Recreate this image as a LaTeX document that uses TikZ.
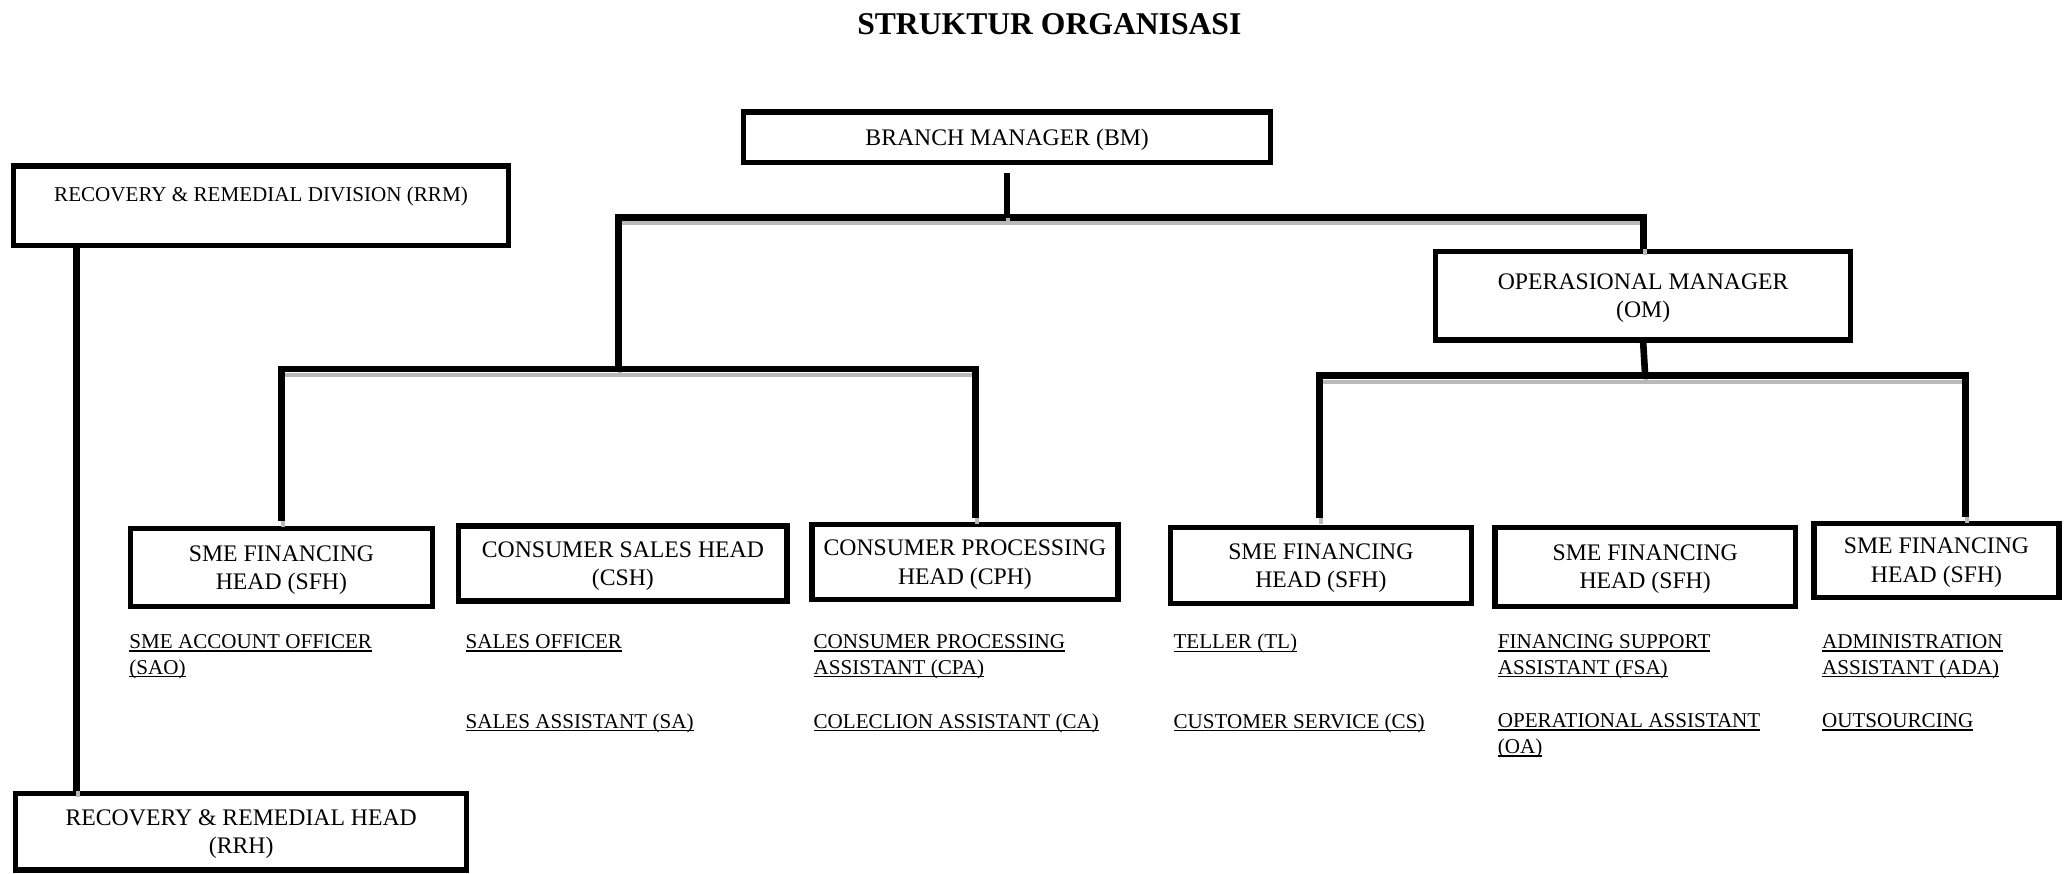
\documentclass[tikz,border=0pt]{standalone}
\usepackage{fontspec}
\setmainfont{Liberation Serif}
\usetikzlibrary{positioning}
\newcommand{\garisbawah}[1]{\setbox0\hbox{#1}\rlap{\rule[-2.6pt]{\wd0}{1.1pt}}\box0}
\tikzset{
    judul/.style={node font=\bfseries\fontsize{24}{28}\selectfont,inner sep=0pt},
    kotak/.style={draw,line width=4pt,align=center,inner sep=0pt,text depth=-3pt,node font=\fontsize{18}{21.5}\selectfont},
    kotakkecil/.style={kotak,node font=\fontsize{16}{20}\selectfont},
    staf/.style={anchor=north west,align=left,inner sep=0pt,node font=\fontsize{16}{19.5}\selectfont},
    garis/.style={draw,line width=5pt,preaction={draw,gray!55,line width=3pt,transform canvas={xshift=1pt,yshift=-4.5pt}}},
}

\begin{document}
\begin{tikzpicture}[x=1pt,y=-1pt]
    \useasboundingbox (0,0) rectangle (1568,663);

    \node [judul] (judul) at (796,18) {STRUKTUR ORGANISASI};

    \node [kotak,minimum width=400pt,minimum height=38pt] (bm) at (764,104) {BRANCH MANAGER (BM)};
    \node [kotakkecil,minimum width=376pt,minimum height=60pt] (rrm) at (198,156) {RECOVERY \& REMEDIAL DIVISION (RRM)\\[-3pt]\strut};
    \node [kotak,minimum width=342pt,minimum height=58pt] (rrh) at (183,631) {RECOVERY \& REMEDIAL HEAD\\(RRH)};
    \node [kotak,minimum width=315pt,minimum height=67pt] (om) at (1246.5,224.5) {OPERASIONAL MANAGER\\(OM)};

    \node [kotak,minimum width=229pt,minimum height=59pt] (sfha) at (213.5,430.5) {SME FINANCING\\HEAD (SFH)};
    \node [kotak,minimum width=249pt,minimum height=57pt] (csh) at (472.5,427.5) {CONSUMER SALES HEAD\\(CSH)};
    \node [kotak,minimum width=232pt,minimum height=57pt] (cph) at (732,426.5) {CONSUMER PROCESSING\\HEAD (CPH)};
    \node [kotak,minimum width=228pt,minimum height=58pt] (sfhb) at (1002,429) {SME FINANCING\\HEAD (SFH)};
    \node [kotak,minimum width=228pt,minimum height=60pt] (sfhc) at (1248,430) {SME FINANCING\\HEAD (SFH)};
    \node [kotak,minimum width=186pt,minimum height=56pt] (sfhd) at (1469,425) {SME FINANCING\\HEAD (SFH)};

    \node [staf] (sao) at (98,481) {\garisbawah{SME ACCOUNT OFFICER}\\\garisbawah{(SAO)}};
    \node [staf] (so) at (353,481) {\garisbawah{SALES OFFICER}};
    \node [staf] (sa) at (353,541) {\garisbawah{SALES ASSISTANT (SA)}};
    \node [staf] (cpa) at (617,481) {\garisbawah{CONSUMER PROCESSING}\\\garisbawah{ASSISTANT (CPA)}};
    \node [staf] (ca) at (617,541) {\garisbawah{COLECLION ASSISTANT (CA)}};
    \node [staf] (tl) at (890,481) {\garisbawah{TELLER (TL)}};
    \node [staf] (cs) at (890,541) {\garisbawah{CUSTOMER SERVICE (CS)}};
    \node [staf] (fsa) at (1136,481) {\garisbawah{FINANCING SUPPORT}\\\garisbawah{ASSISTANT (FSA)}};
    \node [staf] (oa) at (1136,541) {\garisbawah{OPERATIONAL ASSISTANT}\\\garisbawah{(OA)}};
    \node [staf] (ada) at (1382,481) {\garisbawah{ADMINISTRATION}\\\garisbawah{ASSISTANT (ADA)}};
    \node [staf] (luar) at (1382,541) {\garisbawah{OUTSOURCING}};

    % titik cabang
    \coordinate (atasL) at (469,165);
    \coordinate (tengahL) at (469,280);
    \coordinate (tengahR) at (1248,285);
    \coordinate (rr) at (58,0);

    \path [garis] (tengahL) -- (atasL) -| (om.north);
    \path [garis] ([yshift=-6pt]bm.south) -- (bm.south |- atasL);
    \path [garis] ([yshift=4pt]sfha.north) |- (tengahL) -| ([xshift=8pt,yshift=3pt]cph.north);
    \path [garis] (om.south) -- (tengahR);
    \path [garis] ([xshift=-1pt,yshift=5pt]sfhb.north) |- (tengahR) -| ([xshift=22pt,yshift=3pt]sfhd.north);
    \path [garis] (rrm.south -| rr) -- (rrh.north -| rr);
\end{tikzpicture}
\end{document}
